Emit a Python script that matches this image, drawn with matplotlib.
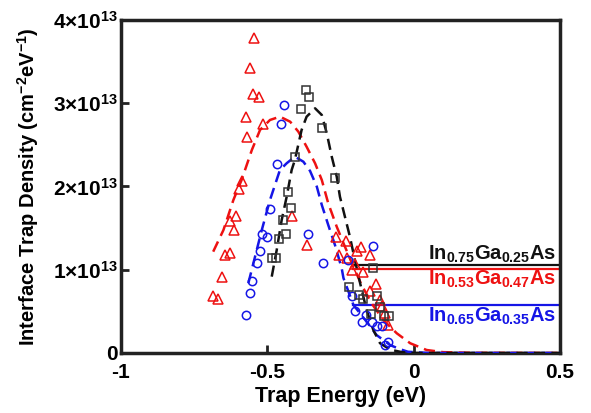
import numpy as np
import matplotlib
matplotlib.use("Agg")
import matplotlib.pyplot as plt

plt.rcParams['font.family'] = ['Liberation Sans', 'DejaVu Sans']
plt.rcParams['font.weight'] = 'bold'
plt.rcParams['mathtext.fontset'] = 'custom'
plt.rcParams['mathtext.rm'] = 'Liberation Sans:bold'
plt.rcParams['mathtext.bf'] = 'Liberation Sans:bold'
plt.rcParams['mathtext.it'] = 'Liberation Sans:bold'
plt.rcParams['axes.unicode_minus'] = False

# measured points, trap energy (eV) and Dit (1e13 cm^-2 eV^-1)
red_x = [-0.545, -0.559, -0.550, -0.529, -0.574, -0.516, -0.568, -0.585, -0.596, -0.608,
         -0.628, -0.614, -0.645, -0.628, -0.656, -0.685, -0.668, -0.417, -0.366,
         -0.266, -0.231, -0.181, -0.195, -0.149, -0.254, -0.229, -0.201, -0.212, -0.172,
         -0.129, -0.149, -0.115, -0.109, -0.098, -0.087]
red_y = [3.78, 3.42, 3.11, 3.07, 2.83, 2.75, 2.60, 2.06, 1.97, 1.65,
         1.58, 1.48, 1.18, 1.20, 0.91, 0.68, 0.65, 1.64, 1.30,
         1.39, 1.34, 1.27, 1.22, 1.18, 1.18, 1.14, 1.07, 1.00, 0.97,
         0.83, 0.74, 0.64, 0.56, 0.48, 0.34]

blue_x = [-0.442, -0.453, -0.468, -0.491, -0.519, -0.502, -0.525, -0.534, -0.553, -0.559,
          -0.573, -0.360, -0.309, -0.226, -0.140, -0.212, -0.201, -0.163, -0.178, -0.144,
          -0.124, -0.109, -0.087, -0.098]
blue_y = [2.98, 2.75, 2.27, 1.73, 1.43, 1.39, 1.23, 1.08, 0.86, 0.72,
          0.46, 1.43, 1.08, 1.12, 1.28, 0.68, 0.50, 0.46, 0.37, 0.37,
          0.32, 0.33, 0.13, 0.10]

black_x = [-0.369, -0.357, -0.386, -0.312, -0.407, -0.268, -0.430, -0.420, -0.446, -0.437,
           -0.460, -0.485, -0.470, -0.140, -0.220, -0.186, -0.172, -0.127, -0.115, -0.145,
           -0.101, -0.083]
black_y = [3.16, 3.07, 2.93, 2.70, 2.35, 2.10, 1.93, 1.74, 1.60, 1.43,
           1.37, 1.14, 1.14, 1.02, 0.79, 0.70, 0.65, 0.68, 0.55, 0.47,
           0.44, 0.44]

# fitted curves
red_fit_x = [-0.685, -0.650, -0.616, -0.588, -0.553, -0.525, -0.491, -0.457, -0.422, -0.394,
             -0.366, -0.337, -0.314, -0.292, -0.263, -0.235, -0.206, -0.178, -0.144, -0.104,
             -0.058, -0.012, 0.044, 0.100, 0.200, 0.500]
red_fit_y = [1.217, 1.477, 1.838, 2.078, 2.438, 2.679, 2.799, 2.839, 2.778, 2.658,
             2.478, 2.279, 2.078, 1.798, 1.517, 1.277, 1.037, 0.817, 0.597, 0.396,
             0.237, 0.117, 0.036, 0.010, 0.002, 0.0]

blue_fit_x = [-0.565, -0.542, -0.519, -0.491, -0.457, -0.434, -0.406, -0.377, -0.354, -0.331,
              -0.314, -0.292, -0.269, -0.246, -0.240, -0.206, -0.161, -0.127, -0.081, -0.050,
              -0.020, 0.050, 0.500]
blue_fit_y = [0.837, 1.157, 1.477, 1.838, 2.198, 2.279, 2.358, 2.298, 2.186, 1.998,
              1.778, 1.538, 1.297, 1.017, 0.900, 0.577, 0.376, 0.216, 0.096, 0.050,
              0.015, 0.0, 0.0]

black_fit_x = [-0.485, -0.468, -0.451, -0.434, -0.417, -0.406, -0.383, -0.366, -0.337, -0.314,
               -0.297, -0.280, -0.263, -0.252, -0.235, -0.218, -0.201, -0.183, -0.161, -0.138,
               -0.115, -0.080, -0.040, 0.000, 0.500]
black_fit_y = [0.917, 1.237, 1.598, 1.877, 2.198, 2.318, 2.679, 2.838, 2.939, 2.859,
               2.639, 2.358, 2.118, 1.877, 1.637, 1.397, 1.117, 0.837, 0.517, 0.276,
               0.117, 0.040, 0.010, 0.0, 0.0]

# horizontal level lines: start energy, level
levels_x0 = -0.207
level_black = 1.057
level_red = 1.009
level_blue = 0.577

labels = [r'In$_{0.75}$Ga$_{0.25}$As', r'In$_{0.53}$Ga$_{0.47}$As', r'In$_{0.65}$Ga$_{0.35}$As']
label_y = [1.19, 0.88, 0.44]

xticks = [-1, -0.5, 0, 0.5]
xtick_labels = ['-1', '-0.5', '0', '0.5']
yticks = [0, 1, 2, 3, 4]
ytick_labels = ['0', '1×10$^{13}$', '2×10$^{13}$', '3×10$^{13}$', '4×10$^{13}$']

red = '#ee1111'
blue = '#1515e6'
black = '#111111'

fig = plt.figure(figsize=(5.91, 4.13), dpi=100)
ax = fig.add_axes([0.2047, 0.1453, 0.743, 0.8063])

dash = (0, (4.5, 2.5))
ax.plot(red_fit_x, red_fit_y, color=red, lw=1.8, ls=dash, zorder=3)
ax.plot(blue_fit_x, blue_fit_y, color=blue, lw=1.8, ls=dash, zorder=3)
ax.plot(black_fit_x, black_fit_y, color=black, lw=1.8, ls=dash, zorder=3)

ax.plot(red_x, red_y, '^', ms=7, mfc='none', mec=red, mew=1.1, ls='none', zorder=4)
ax.plot(blue_x, blue_y, 'o', ms=6, mfc='none', mec=blue, mew=1.1, ls='none', zorder=4)
ax.plot(black_x, black_y, 's', ms=6, mfc='none', mec='#333333', mew=1.1, ls='none', zorder=4)

ax.plot([levels_x0, 0.5], [level_black, level_black], color=black, lw=1.6, zorder=2)
ax.plot([levels_x0, 0.5], [level_red, level_red], color=red, lw=1.6, zorder=2)
ax.plot([levels_x0, 0.5], [level_blue, level_blue], color=blue, lw=1.6, zorder=2)

for txt, ty, c in zip(labels, label_y, [black, red, blue]):
    ax.text(0.487, ty, txt, color=c, fontsize=14.5, fontweight='bold', ha='right', va='center')

ax.set_xlim(-1, 0.5)
ax.set_ylim(0, 4)
ax.set_xticks(xticks)
ax.set_xticklabels(xtick_labels)
ax.set_yticks(yticks)
ax.set_yticklabels(ytick_labels)
ax.tick_params(direction='in', length=6, width=2, labelsize=15, pad=2, color='#222222')
ax.tick_params(axis='x', pad=7)
ax.get_yticklabels()[0].set_y(0.08)
for s in ax.spines.values():
    s.set_linewidth(2.5)
    s.set_color('#222222')

ax.set_xlabel('Trap Energy (eV)', fontsize=15.5, fontweight='bold', labelpad=3)
ax.set_ylabel('Interface Trap Density (cm$^{-2}$eV$^{-1}$)', fontsize=14.5, fontweight='bold', labelpad=9)

plt.savefig('out.png', dpi=100)
